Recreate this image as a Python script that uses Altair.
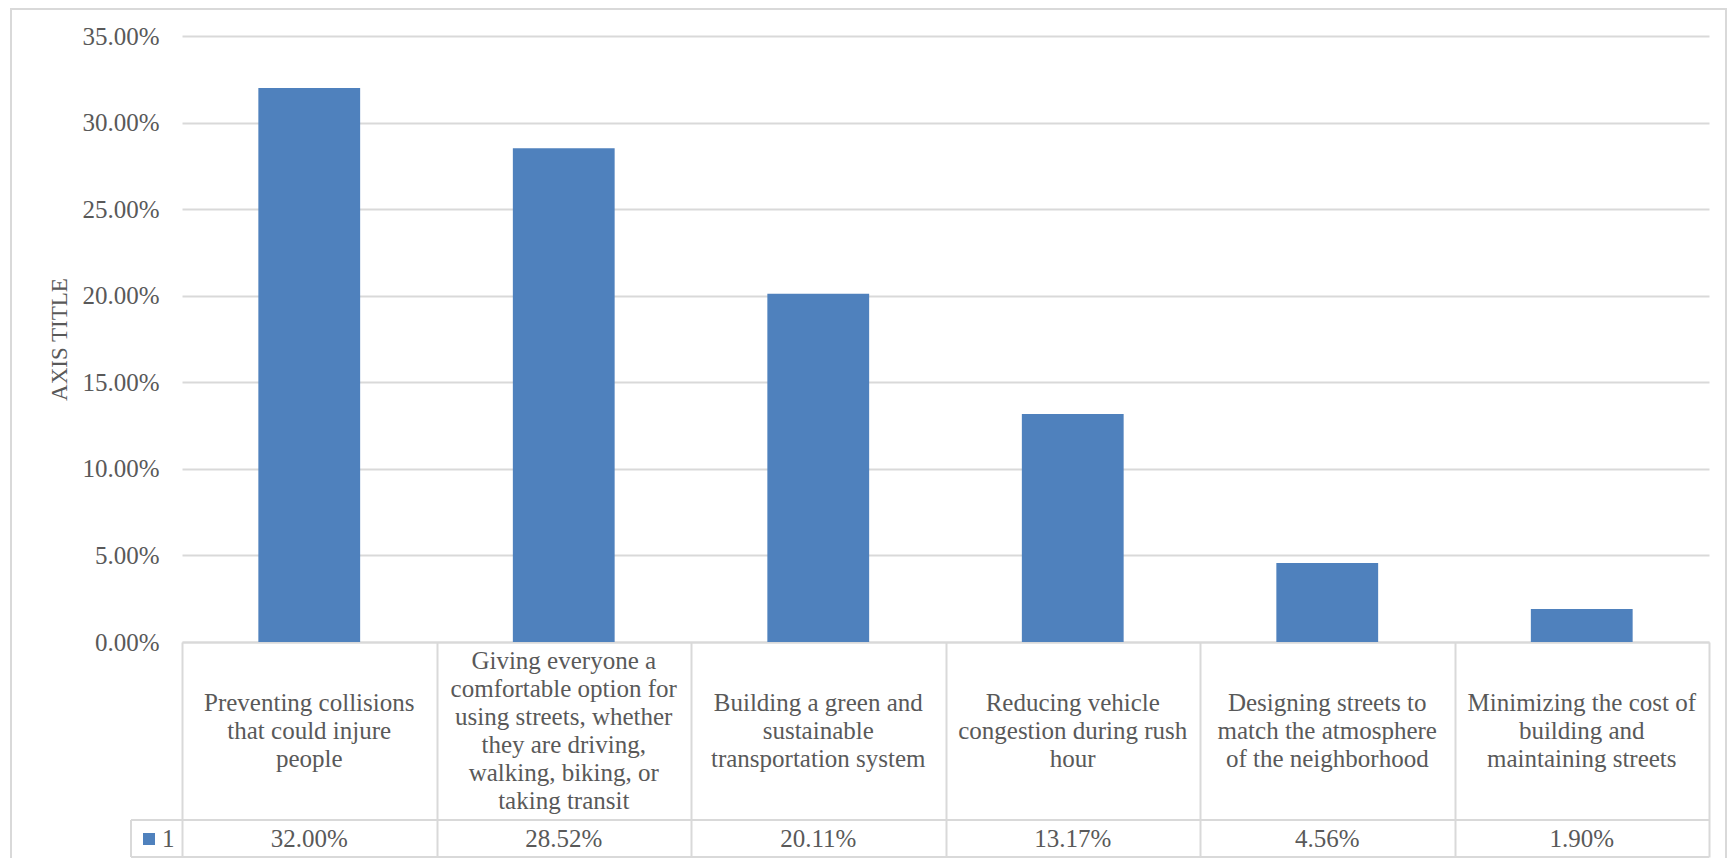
import altair as alt
import pandas as pd

categories = [
    "Preventing collisions",
    "Giving everyone a comfortable option",
    "Building a green system",
    "Reducing vehicle congestion",
    "Designing streets",
    "Minimizing the cost",
]
labels = [
    "Preventing collisions\nthat could injure\npeople",
    "Giving everyone a\ncomfortable option for\nusing streets, whether\nthey are driving,\nwalking, biking, or\ntaking transit",
    "Building a green and\nsustainable\ntransportation system",
    "Reducing vehicle\ncongestion during rush\nhour",
    "Designing streets to\nmatch the atmosphere\nof the neighborhood",
    "Minimizing the cost of\nbuilding and\nmaintaining streets",
]
values = [0.32, 0.2852, 0.2011, 0.1317, 0.0456, 0.019]
value_text = ["32.00%", "28.52%", "20.11%", "13.17%", "4.56%", "1.90%"]
series_name = "1"
y_ticks = [0, 0.05, 0.10, 0.15, 0.20, 0.25, 0.30, 0.35]
y_title = "AXIS TITLE"

df = pd.DataFrame({"cat": categories, "label": labels, "value": values, "vtext": value_text})
df["nlines"] = df["label"].str.count("\n") + 1
one = pd.DataFrame({"k": [0]})

W, H = 1527, 606
FONT = "Liberation Serif"
GRAY = "#595959"
LINE = "#d9d9d9"
BLUE = "#4f81bd"
FS = 25
LH = 28

x_enc = alt.X(
    "cat:N",
    sort=categories,
    scale=alt.Scale(paddingInner=0, paddingOuter=0),
    axis=alt.Axis(
        labels=False, title=None, domain=True, domainColor=LINE, domainWidth=2,
        ticks=True, tickBand="extent", tickSize=215, tickColor=LINE, tickWidth=2,
        grid=False,
    ),
)

bars = alt.Chart(df).mark_bar(color=BLUE, width=alt.RelativeBandSize(0.4)).encode(
    x=x_enc,
    y=alt.Y(
        "value:Q",
        scale=alt.Scale(domain=[0, 0.35]),
        axis=alt.Axis(
            values=y_ticks, format=".2%", domain=False, ticks=False,
            grid=True, gridColor=LINE, gridWidth=2,
            labelFont=FONT, labelFontSize=FS, labelColor=GRAY, labelPadding=23,
            title=y_title, titleFont=FONT, titleFontSize=23, titleColor=GRAY,
            titleFontWeight="normal", titleX=-123, titleY=H / 2, titleAngle=270,
            titleAlign="center", titleBaseline="middle",
        ),
    ),
)

# category labels, centred vertically in the header row (one layer per line count)
cat_layers = []
for n in sorted(df["nlines"].unique()):
    sub = df[df["nlines"] == n]
    cat_layers.append(
        alt.Chart(sub).mark_text(
            font=FONT, fontSize=FS, color=GRAY, lineBreak="\n", lineHeight=LH,
            align="center", baseline="middle",
        ).encode(x=x_enc, y=alt.value(H + 89 - (int(n) - 1) * LH / 2), text="label:N")
    )

val_text = alt.Chart(df).mark_text(
    font=FONT, fontSize=FS, color=GRAY, align="center", baseline="middle",
).encode(x=x_enc, y=alt.value(H + 197), text="vtext:N")

row_line = alt.Chart(one).mark_rule(color=LINE, strokeWidth=2).encode(
    x=alt.value(-51), x2=alt.value(W), y=alt.value(H + 178))
bottom_line = alt.Chart(one).mark_rule(color=LINE, strokeWidth=2).encode(
    x=alt.value(-51), x2=alt.value(W), y=alt.value(H + 215))
legend_left = alt.Chart(one).mark_rule(color=LINE, strokeWidth=2).encode(
    x=alt.value(-51), y=alt.value(H + 178), y2=alt.value(H + 215))
key = alt.Chart(one).mark_rect(color=BLUE).encode(
    x=alt.value(-39), x2=alt.value(-27), y=alt.value(H + 191), y2=alt.value(H + 203))
key_text = alt.Chart(one).mark_text(
    font=FONT, fontSize=FS, color=GRAY, align="left", baseline="middle",
).encode(x=alt.value(-20), y=alt.value(H + 197), text=alt.value(series_name))

border = alt.Chart(one).mark_rect(fill=None, stroke=LINE, strokeWidth=2, fillOpacity=0).encode(
    x=alt.value(-171), x2=alt.value(W + 17), y=alt.value(-27), y2=alt.value(H + 240))

chart = alt.layer(
    border, bars, *cat_layers, val_text, row_line, bottom_line, legend_left, key, key_text
).properties(
    width=W, height=H,
    autosize=alt.AutoSizeParams(type="none"),
    padding={"left": 174, "top": 28, "right": 19, "bottom": 216},
).configure_view(stroke=None)

chart.save("out.html", embed_options={"renderer": "svg", "actions": False})
